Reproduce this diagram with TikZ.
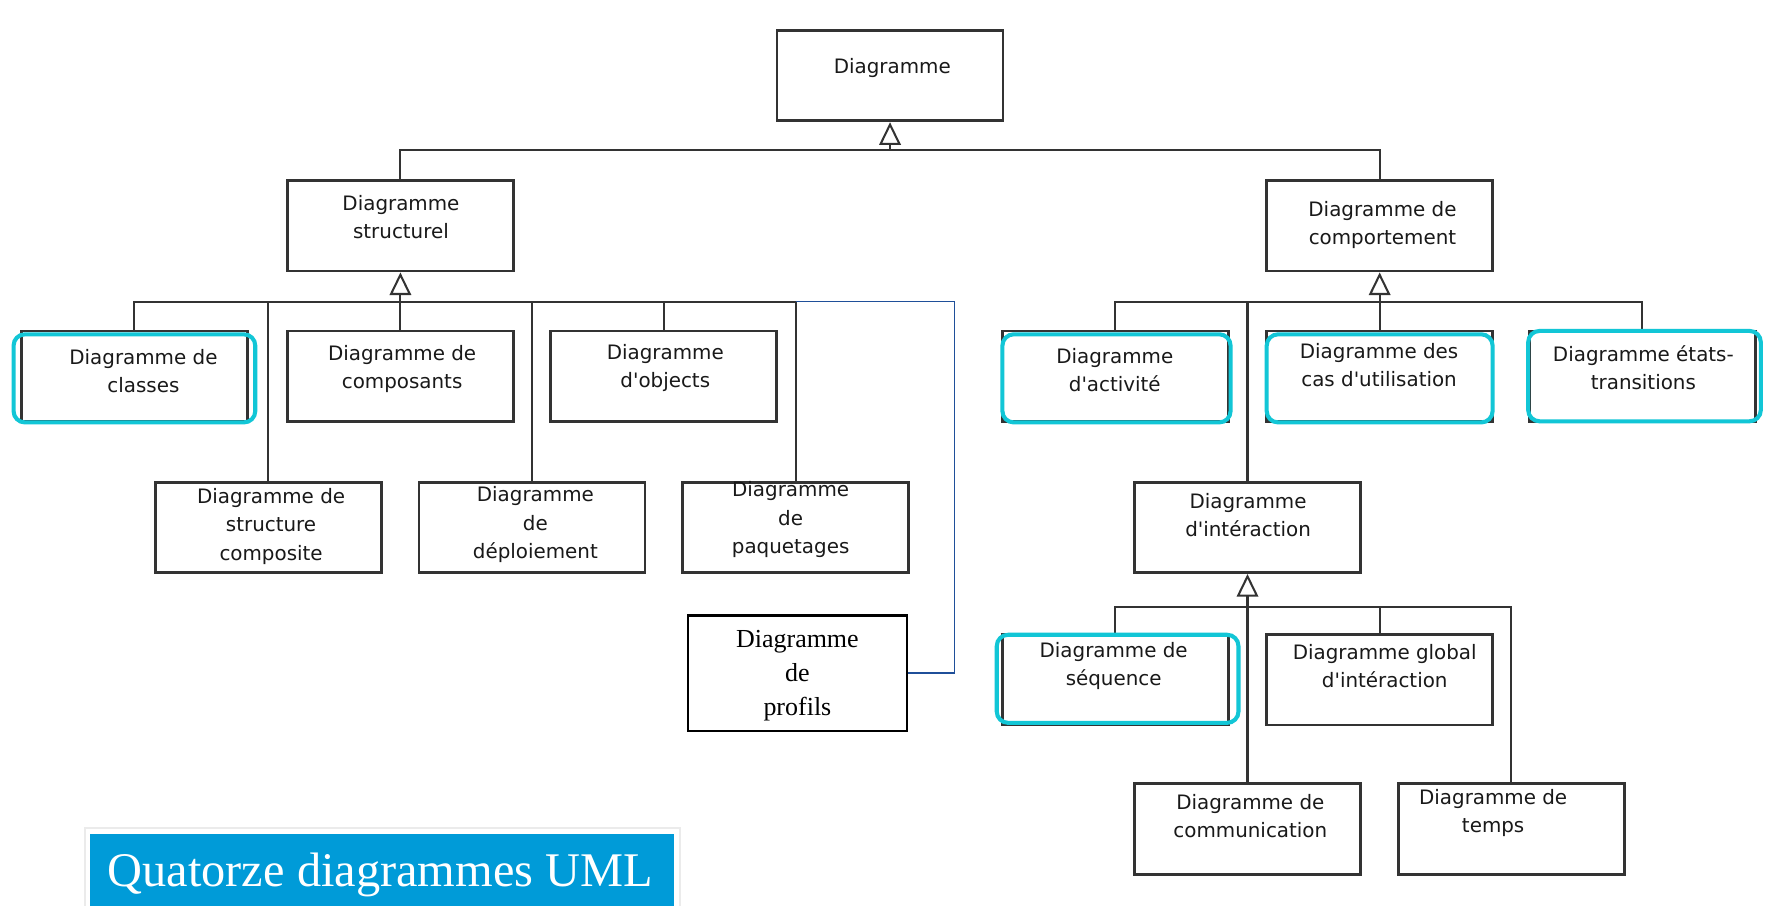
\documentclass[tikz,border=0pt]{standalone}
\usepackage{fontspec}
\setmainfont{Liberation Serif}
\newfontfamily\dvfont{DejaVu Sans}
\usetikzlibrary{arrows.meta}
\definecolor{boxline}{HTML}{333333}
\definecolor{hlcol}{HTML}{12C6D6}
\definecolor{bluel}{HTML}{1F4F99}
\definecolor{titlebg}{HTML}{009BD8}
\begin{document}
\begin{tikzpicture}[x=0.5pt,y=-0.5pt,
  umlbox/.style={draw=boxline, line width=1.2pt, fill=white, minimum width=100pt, minimum height=40pt, inner sep=0pt},
  lbl/.style={font=\dvfont\fontsize{8.8}{12.5}\selectfont, align=center, text=black!90, inner sep=0pt},
  hlbox/.style={draw=hlcol, line width=1.8pt, rounded corners=5pt, minimum height=39pt, inner sep=0pt},
  conn/.style={draw=boxline, line width=0.9pt},
  gen/.style={conn, -{Triangle[open, width=9.5pt, length=10pt, line width=0.9pt]}},
  bluecon/.style={draw=bluel, line width=0.7pt},
  profbox/.style={draw=black, line width=1.1pt, fill=white, minimum width=97pt, minimum height=51pt, inner sep=0pt},
  proflbl/.style={font=\fontsize{11.5}{15}\selectfont, align=center, inner sep=0pt}
]
\useasboundingbox (0,0) rectangle (1568,802);
\fill[white] (0,0) rectangle (1568,802);

% boxes
\node[umlbox] (top) at (788,67) {};
\node[umlbox] (struct) at (354.5,200) {};
\node[umlbox] (comp) at (1221.5,200) {};
\node[umlbox] (classes) at (119,333) {};
\node[umlbox] (compos) at (354.5,333) {};
\node[umlbox] (objects) at (587.5,333) {};
\node[umlbox] (struccomp) at (237.5,467) {};
\node[umlbox] (deploi) at (471,467) {};
\node[umlbox] (paquet) at (704.5,467) {};
\node[profbox] (profils) at (706,596) {};
\node[umlbox] (activ) at (987.5,333) {};
\node[umlbox] (cas) at (1221.5,333) {};
\node[umlbox] (etats) at (1454,333) {};
\node[umlbox] (inter) at (1104.5,467) {};
\node[umlbox] (seq) at (987.5,602) {};
\node[umlbox] (global) at (1221.5,602) {};
\node[umlbox] (commun) at (1104.5,734) {};
\node[umlbox] (temps) at (1338,734) {};

% labels
\node[lbl] (top-t) at (790,60) {Diagramme};
\node[lbl] (struct-t) at (355,192.5) {Diagramme\\structurel};
\node[lbl] (comp-t) at (1224,199.5) {Diagramme de\\comportement};
\node[lbl] (classes-t) at (127,328.5) {Diagramme de\\classes};
\node[lbl] (compos-t) at (356,327) {Diagramme de\\composants};
\node[lbl] (objects-t) at (589,326) {Diagramme\\d'objects};
\node[lbl] (struccomp-t) at (240,466) {Diagramme de\\structure\\composite};
\node[lbl] (deploi-t) at (474,464.5) {Diagramme\\de\\déploiement};
\node[lbl] (paquet-t) at (700,460) {Diagramme\\de\\paquetages};
\node[proflbl] (profils-t) at (706,598) {Diagramme\\de\\profils};
\node[lbl] (activ-t) at (987,327.5) {Diagramme\\d'activité};
\node[lbl] (cas-t) at (1221,323.5) {Diagramme des\\cas d'utilisation};
\node[lbl] (etats-t) at (1455,325.5) {Diagramme états-\\transitions};
\node[lbl] (inter-t) at (1105,456) {Diagramme\\d'intéraction};
\node[lbl] (seq-t) at (986,590) {Diagramme de\\séquence};
\node[lbl] (global-t) at (1226,590) {Diagramme global\\d'intéraction};
\node[lbl] (commun-t) at (1107,722.5) {Diagramme de\\communication};
\node[lbl] (temps-t) at (1322,719.5) {Diagramme de\\temps};

% connectors: level 1
\coordinate (b1) at (788,133);
\draw[conn] (struct.north) |- (b1) -| (comp.north);
\draw[gen] (b1) -- (top.south);

% structural children
\coordinate (b2) at (354.5,267);
\draw[conn] (classes.north) |- (paquet.north |- b2) -- (paquet.north);
\draw[conn] (struccomp.north) -- (struccomp.north |- b2);
\draw[conn] (deploi.north) -- (deploi.north |- b2);
\draw[conn] (objects.north) -- (objects.north |- b2);
\draw[gen] (compos.north) -- (struct.south);
\coordinate (bl1) at (845,267);
\draw[bluecon] (paquet.north |- b2) -- (bl1) |- (profils.east);

% behavioural children
\coordinate (b3) at (1221.5,267);
\draw[conn] (activ.north) |- (etats.north |- b3) -- (etats.north);
\draw[conn] (inter.north) -- (inter.north |- b3);
\draw[gen] (cas.north) -- (comp.south);

% interaction children
\coordinate (b4) at (1104.5,537);
\draw[conn] (seq.north) |- (temps.north |- b4) -- (temps.north);
\draw[conn] (global.north) -- (global.north |- b4);
\draw[gen] (commun.north) -- (inter.south);

% highlights
\node[hlbox, minimum width=107pt] (hl-classes) at (119,335) {};
\node[hlbox, minimum width=101pt] (hl-activ) at (988.5,335) {};
\node[hlbox, minimum width=100pt] (hl-cas) at (1221.5,335) {};
\node[hlbox, minimum width=103pt, minimum height=40pt] (hl-etats) at (1456,333) {};
\node[hlbox, minimum width=107pt] (hl-seq) at (989.5,601) {};

% title
\draw[black!8, line width=0.8pt] (75,733) rectangle (602,806);
\fill[titlebg] (80,738) rectangle (597,802);
\node[anchor=base west, text=white, font=\fontsize{21.4}{24}\selectfont, inner sep=0pt] (title) at (95,785) {Quatorze diagrammes UML};
\end{tikzpicture}
\end{document}
